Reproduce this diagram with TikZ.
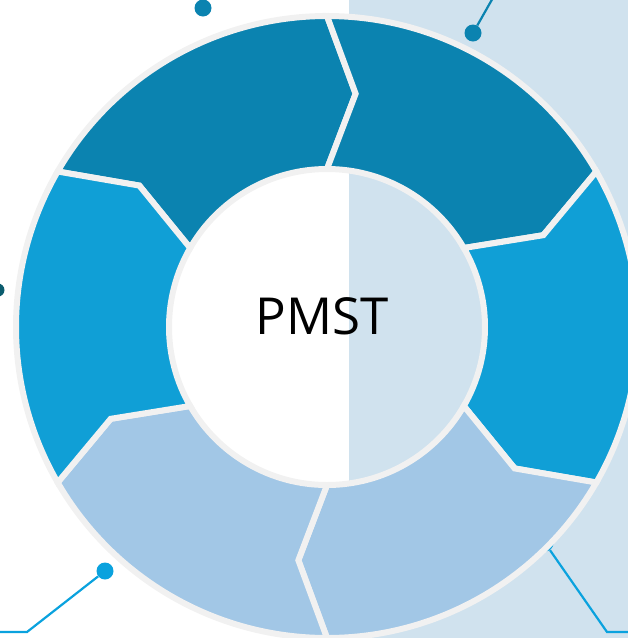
\documentclass[tikz,border=0pt]{standalone}
\usepackage{fontspec}
\setmainfont{Open Sans}
\definecolor{fonce}{HTML}{0B83B0}
\definecolor{moyen}{HTML}{109FD6}
\definecolor{clair}{HTML}{A2C7E6}
\definecolor{fond}{HTML}{D0E2EE}
\definecolor{bord}{HTML}{F1F1F1}
\definecolor{sombre}{HTML}{0B5C6E}
\definecolor{vif}{HTML}{0AA2DE}
\begin{document}
\begin{tikzpicture}[x=1pt, y=1pt]
\tikzset{segment/.style={draw=bord, line width=6pt},
  point/.style={circle, fill=#1, inner sep=0pt, minimum size=17pt},
  trait/.style={draw=#1, line width=2.2pt}}
\useasboundingbox (0, 0) rectangle (628, -638);
\clip (0, 0) rectangle (628, -638);
\fill[fond] (349, 0) rectangle (628, -638);
% connecteurs
\node[point=fonce] (P1) at (203, -8) {};
\coordinate (E1) at (207, 4);
\draw[trait=fonce] (P1) -- (E1);
\node[point=fonce] (P2) at (473, -33) {};
\coordinate (E2) at (494, 4);
\draw[trait=fonce] (P2) -- (E2);
\node[point=sombre, minimum size=13pt] (P3) at (-2, -290) {};
\node[point=vif] (P4) at (105, -571) {};
\coordinate (K4) at (27, -632);
\coordinate (E4) at (-4, -632);
\draw[trait=vif] (P4) -- (K4) -- (E4);
\node[point=vif] (P5) at (545, -543) {};
\coordinate (K5) at (607, -632);
\coordinate (E5) at (632, -632);
\draw[trait=vif] (P5) -- (K5) -- (E5);
% anneau
\begin{scope}[shift={(327, -327)}]
\foreach \a/\c in {150/fonce, 90/fonce, 30/moyen, -30/clair, -90/clair, -150/moyen}{
  \pgfmathsetmacro{\b}{\a-60}
  \filldraw[segment, fill=\c] (\a:311) arc[start angle=\a, end angle=\b, radius=311]
    -- ({\b-7}:235) -- (\b:158) arc[start angle=\b, end angle=\a, radius=158]
    -- ({\a-7}:235) -- cycle;
}
\end{scope}
\node[font=\fontsize{51}{55}\selectfont] (titre) at (322, -316) {PMST};
\end{tikzpicture}
\end{document}
